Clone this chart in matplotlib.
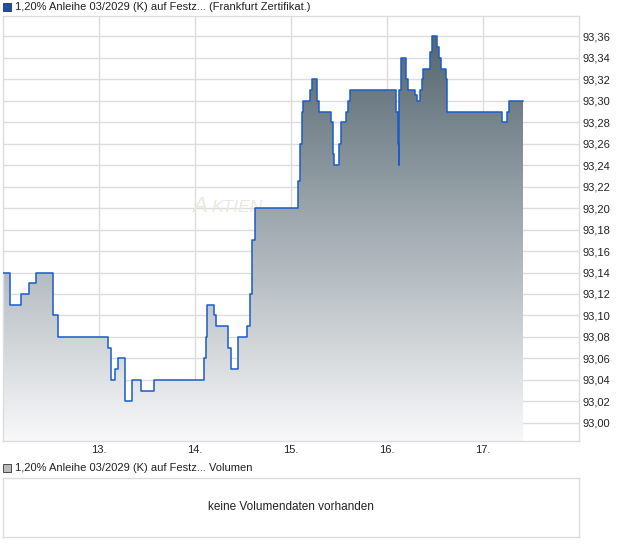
import numpy as np
import matplotlib
matplotlib.use('Agg')
import matplotlib.pyplot as plt
from matplotlib.patches import Rectangle

plt.rcParams['font.family'] = ['Liberation Sans', 'DejaVu Sans']

# price series: time in days (day of month + fraction), price
t = [12.000, 12.073, 12.188, 12.281, 12.344, 12.521, 12.583, 13.104, 13.125, 13.177,
     13.198, 13.271, 13.344, 13.354, 13.438, 13.573, 14.104, 14.115, 14.125, 14.198,
     14.219, 14.354, 14.375, 14.448, 14.458, 14.542, 14.583, 14.604, 14.625, 15.073,
     15.094, 15.104, 15.115, 15.125, 15.198, 15.219, 15.281, 15.292, 15.427, 15.438,
     15.458, 15.500, 15.521, 15.583, 15.594, 15.615, 16.104, 16.115, 16.125, 16.135,
     16.146, 16.208, 16.219, 16.292, 16.313, 16.354, 16.365, 16.375, 16.448, 16.469,
     16.531, 16.542, 16.563, 16.615, 16.625, 16.635, 17.198, 17.260, 17.271, 17.417]
price = [93.14, 93.11, 93.12, 93.13, 93.14, 93.10, 93.08, 93.07, 93.04, 93.05,
         93.06, 93.02, 93.03, 93.04, 93.03, 93.04, 93.06, 93.08, 93.11, 93.10,
         93.09, 93.07, 93.05, 93.07, 93.08, 93.09, 93.12, 93.17, 93.20, 93.225,
         93.25, 93.26, 93.29, 93.30, 93.31, 93.32, 93.30, 93.29, 93.28, 93.25,
         93.24, 93.26, 93.28, 93.29, 93.30, 93.31, 93.29, 93.26, 93.24, 93.31,
         93.34, 93.32, 93.31, 93.305, 93.30, 93.31, 93.32, 93.33, 93.345, 93.36,
         93.35, 93.34, 93.33, 93.32, 93.30, 93.29, 93.28, 93.29, 93.30, 93.30]

y_ticks = [93.00, 93.02, 93.04, 93.06, 93.08, 93.10, 93.12, 93.14, 93.16, 93.18,
           93.20, 93.22, 93.24, 93.26, 93.28, 93.30, 93.32, 93.34, 93.36]
x_ticks = [13, 14, 15, 16, 17]
x_labels = ['13.', '14.', '15.', '16.', '17.']

title = '1,20% Anleihe 03/2029 (K) auf Festz... (Frankfurt Zertifikat.)'
vol_title = '1,20% Anleihe 03/2029 (K) auf Festz... Volumen'
no_vol = 'keine Volumendaten vorhanden'

W, H = 620, 546
fig = plt.figure(figsize=(W / 100, H / 100), dpi=100)
fig.patch.set_facecolor('white')

def px_axes(x0, y0, x1, y1):
    return fig.add_axes([x0 / W, 1 - y1 / H, (x1 - x0) / W, (y1 - y0) / H])

grid_c = '#dcdcdc'
line_c = '#1a5cc8'
ymin, ymax = 92.983, 93.379

ax = px_axes(2.5, 16, 578.5, 441)
ax.set_xlim(12, 18)
ax.set_ylim(ymin, ymax)
for s in ax.spines.values():
    s.set_color(grid_c)
    s.set_linewidth(1)
ax.set_yticks(y_ticks)
ax.set_yticklabels([f'{v:.2f}'.replace('.', ',') for v in y_ticks])
ax.set_xticks(x_ticks)
ax.set_xticklabels(x_labels)
ax.yaxis.tick_right()
ax.tick_params(axis='both', length=0, labelsize=8, colors='#222222')
ax.tick_params(axis='y', pad=3)
ax.tick_params(axis='x', pad=3)
ax.grid(True, color=grid_c, linewidth=1)
ax.set_axisbelow(True)

# watermark (small caps look)
ax.text(13.98, 93.196, 'A', fontsize=16, style='italic', color='#ece7e1', zorder=1)
ax.text(14.175, 93.196, 'KTIEN', fontsize=12.5, style='italic', color='#ece7e1', zorder=1)

# gradient fill clipped to area under the step line
poly = ax.fill_between(t, price, ymin, step='post', facecolor='none',
                       edgecolor='none', zorder=2)
top_c = np.array([0.33, 0.40, 0.44])
bot_c = np.array([0.975, 0.975, 0.98])
f = np.linspace(0, 1, 256)[:, None]
grad = (top_c * (1 - f) + bot_c * f)[:, None, :]
img = ax.imshow(grad, extent=[12, 18, ymin, 93.36], aspect='auto',
                origin='upper', zorder=2)
img.set_clip_path(poly.get_paths()[0], transform=ax.transData)
ax.set_ylim(ymin, ymax)

ax.step(t, price, where='post', color=line_c, linewidth=1.1, zorder=3)

# top legend
fig.patches.append(Rectangle((3 / W, 1 - 11 / H), 8 / W, 8 / H, transform=fig.transFigure,
                             facecolor='#1a4fb0', edgecolor='#333333', linewidth=0.6))
fig.text(15 / W, 1 - 7.5 / H, title, fontsize=8, va='center', ha='left', color='#222222')

# volume panel
fig.patches.append(Rectangle((3 / W, 1 - 472 / H), 8 / W, 8 / H, transform=fig.transFigure,
                             facecolor='#bbbbbb', edgecolor='#333333', linewidth=0.6))
fig.text(15 / W, 1 - 468 / H, vol_title, fontsize=8, va='center', ha='left', color='#222222')

ax2 = px_axes(2.5, 478, 578.5, 537)
ax2.set_xticks([])
ax2.set_yticks([])
for s in ax2.spines.values():
    s.set_color(grid_c)
    s.set_linewidth(1)
ax2.text(0.5, 0.5, no_vol, transform=ax2.transAxes, ha='center', va='center',
         fontsize=8.5, color='#222222')

fig.savefig('out.png', dpi=100)
